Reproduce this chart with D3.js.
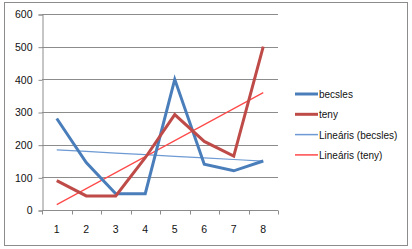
<!DOCTYPE html>
<html>
<head>
<meta charset="utf-8">
<script src="https://cdn.jsdelivr.net/npm/d3@7"></script>
<style>
  body { margin: 0; background: #fff; }
  svg text { font-family: "Liberation Sans", Arial, sans-serif; fill: #111; }
</style>
</head>
<body>
<svg width="412" height="249"></svg>
<script>
// data
const categories = [1, 2, 3, 4, 5, 6, 7, 8];
const becsles = [280, 145, 50, 50, 400, 140, 120, 150];
const teny = [90, 43, 43, 160, 292, 210, 165, 500];
const yTicks = [0, 100, 200, 300, 400, 500, 600];
const legendLabels = ["becsles", "teny", "Lineáris (becsles)", "Lineáris (teny)"];

window.onload = () => {
  const svg = d3.select("svg");

  // outer frame
  svg.append("rect")
    .attr("x", 4.5).attr("y", 2.5)
    .attr("width", 403).attr("height", 243)
    .attr("fill", "#fff").attr("stroke", "#8c8c8c");

  const margin = { top: 14, left: 42 };
  const innerWidth = 236;
  const innerHeight = 196;

  const xScale = d3.scaleBand().domain(categories).range([0, innerWidth]);
  const yScale = d3.scaleLinear().domain([0, 600]).range([innerHeight, 0]);
  const cx = d => xScale(d) + xScale.bandwidth() / 2;

  const g = svg.append("g")
    .attr("transform", `translate(${margin.left},${margin.top})`);

  // gridlines
  g.selectAll(".grid").data(yTicks.slice(1)).enter().append("line")
    .attr("x1", 0).attr("x2", innerWidth)
    .attr("y1", d => Math.round(yScale(d)) + 0.5)
    .attr("y2", d => Math.round(yScale(d)) + 0.5)
    .attr("stroke", "#8c8c8c");

  // y axis
  const yAxis = d3.axisLeft(yScale).tickValues(yTicks).tickSize(4).tickPadding(6);
  const yAxisG = g.append("g").attr("transform", "translate(0.5,0.5)").call(yAxis);
  yAxisG.selectAll("path, line").attr("stroke", "#8c8c8c");
  yAxisG.selectAll("text").attr("font-size", 10.5).attr("font-family", "Liberation Sans");

  // x axis, ticks at band boundaries
  const xAxisG = g.append("g").attr("transform", `translate(0,${innerHeight + 0.5})`);
  xAxisG.append("line").attr("x1", 0).attr("x2", innerWidth).attr("stroke", "#8c8c8c");
  xAxisG.selectAll(".tk").data(d3.range(categories.length + 1)).enter().append("line")
    .attr("x1", i => Math.round(i * xScale.step()) + 0.5)
    .attr("x2", i => Math.round(i * xScale.step()) + 0.5)
    .attr("y1", 0).attr("y2", 4).attr("stroke", "#8c8c8c");
  xAxisG.selectAll("text").data(categories).enter().append("text")
    .attr("x", d => cx(d)).attr("y", 22)
    .attr("text-anchor", "middle").attr("font-size", 10.5)
    .text(d => d);

  // linear trend (least squares, like the spreadsheet does)
  const trend = vals => {
    const n = vals.length;
    const xs = d3.range(1, n + 1);
    const mx = d3.mean(xs), my = d3.mean(vals);
    const b = d3.sum(xs, (x, i) => (x - mx) * (vals[i] - my)) / d3.sum(xs, x => (x - mx) ** 2);
    const a = my - b * mx;
    return xs.map(x => a + b * x);
  };

  const series = [
    { name: legendLabels[0], values: becsles, color: "#4a7ebb", width: 3 },
    { name: legendLabels[1], values: teny, color: "#be4b48", width: 3 },
    { name: legendLabels[2], values: trend(becsles), color: "#6d9ad3", width: 1.2 },
    { name: legendLabels[3], values: trend(teny), color: "#ff4a4a", width: 1.2 }
  ];

  const line = d3.line()
    .x((d, i) => cx(categories[i]))
    .y(d => yScale(d));

  // trend lines drawn first, data lines on top
  [series[2], series[3], series[0], series[1]].forEach(s => {
    g.append("path")
      .datum(s.values)
      .attr("d", line)
      .attr("fill", "none")
      .attr("stroke", s.color)
      .attr("stroke-width", s.width)
      .attr("stroke-linejoin", "miter");
  });

  // legend
  const legend = svg.append("g").attr("transform", "translate(295,94)");
  series.forEach((s, i) => {
    const row = legend.append("g").attr("transform", `translate(0,${i * 20.3})`);
    row.append("line").attr("x1", 0).attr("x2", 23)
      .attr("stroke", s.color).attr("stroke-width", s.width === 3 ? 3 : 1.5);
    row.append("text").attr("x", 24).attr("y", 4)
      .attr("font-size", 10).text(s.name);
  });
};
</script>
</body>
</html>
